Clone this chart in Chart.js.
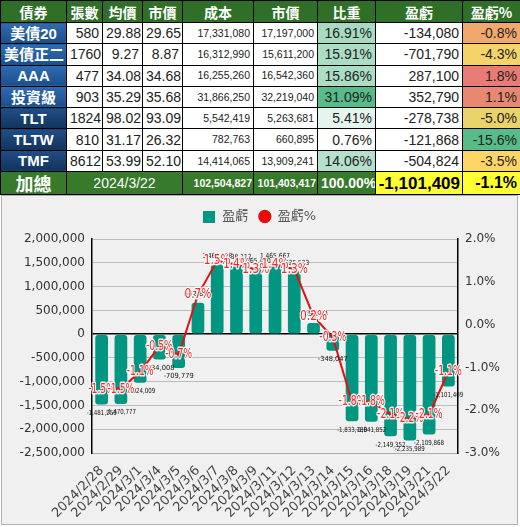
<!DOCTYPE html>
<html>
<head>
<meta charset="utf-8">
<script src="https://cdn.jsdelivr.net/npm/chart.js@4/dist/chart.umd.min.js"></script>
<style>
  body { margin: 0; width: 520px; height: 527px; background: #fff; position: relative; overflow: hidden; }
  table { position: absolute; left: 0; top: 0; width: 520px; border-collapse: collapse; table-layout: fixed;
    font-family: "Liberation Sans", Arial, "Noto Sans CJK TC", sans-serif; }
  td, th { border: 1px solid #000; padding: 0 3px; white-space: nowrap; overflow: hidden; line-height: 1; }
  tr { height: 21.3px; }
  tr.head { height: 22px; }
  tr.total { height: 23px; }
  th { background: #2f6f27; color: #fff; font-family: "Noto Sans CJK TC", sans-serif; font-size: 14px; font-weight: bold; }
  td { text-align: right; font-size: 14px; color: #222; background: #fff; }
  td.name { text-align: center; color: #fff; font-weight: bold; font-size: 15px; font-family: "Liberation Sans", "Noto Sans CJK TC", sans-serif; }
  td.small { font-size: 10.5px; }
  tr.total td { background: #377a2c; color: #fff; }
  #box { position: absolute; left: 1px; top: 195px; width: 515px; height: 328px; border: 1px solid #b0b0b0; background: #f0f0f0; }
</style>
</head>
<body>
<table id="tbl"></table>
<div id="box"><canvas id="c"></canvas></div>
<script>
// table data
const headers = ['債券', '張數', '均價', '市價', '成本', '市價', '比重', '盈虧', '盈虧%'];
const names = ['美債20', '美債正二', 'AAA', '投資級', 'TLT', 'TLTW', 'TMF'];
const lots = [580, 1760, 477, 903, 1824, 810, 8612];
const avgPrice = [29.88, 9.27, 34.08, 35.29, 98.02, 31.17, 53.99];
const lastPrice = [29.65, 8.87, 34.68, 35.68, 93.09, 26.32, 52.10];
const cost = [17331080, 16312990, 16255260, 31866250, 5542419, 782763, 14414065];
const mktValue = [17197000, 15611200, 16542360, 32219040, 5263681, 660895, 13909241];
const weight = [16.91, 15.91, 15.86, 31.09, 5.41, 0.76, 14.06];
const pnl = [-134080, -701790, 287100, 352790, -278738, -121868, -504824];
const pnlPct = [-0.8, -4.3, 1.8, 1.1, -5.0, -15.6, -3.5];
const totalLabel = '加總';
const totalDate = '2024/3/22';
const totalCost = 102504827;
const totalValue = 101403417;
const totalWeight = 100.00;
const totalPnl = -1101409;
const totalPct = -1.1;

// chart data
const dates = ['2024/2/28', '2024/2/29', '2024/3/1', '2024/3/4', '2024/3/5', '2024/3/6', '2024/3/7',
  '2024/3/8', '2024/3/9', '2024/3/11', '2024/3/12', '2024/3/13', '2024/3/14', '2024/3/15',
  '2024/3/16', '2024/3/18', '2024/3/19', '2024/3/21', '2024/3/22'];
const profit = [-1481250, -1470777, -1024009, -534008, -709779, 662880, 1469263, 1438112, 1365430,
  1465667, 1325523, 235273, -348047, -1833180, -1841852, -2149352, -2235989, -2109868, -1101409];
const profitPct = [-1.5, -1.5, -1.1, -0.5, -0.7, 0.7, 1.5, 1.4, 1.3, 1.4, 1.3, 0.2, -0.3, -1.8, -1.8,
  -2.1, -2.2, -2.1, -1.1];

const fmt = v => v.toLocaleString('en-US');

function mix(a, b, t) {
  const r = a.map((c, i) => Math.round(c + (b[i] - c) * t));
  return 'rgb(' + r.join(',') + ')';
}
const GREEN = [87, 187, 138], YELLOW = [255, 214, 102], RED = [230, 124, 115], WHITE = [255, 255, 255];

function weightColor(v) {
  const lo = Math.min(...weight), hi = Math.max(...weight);
  return mix(WHITE, GREEN, (v - lo) / (hi - lo));
}
function pctColor(v) {
  const lo = Math.min(...pnlPct), hi = Math.max(...pnlPct);
  const mid = [...pnlPct].sort((a, b) => a - b)[Math.floor(pnlPct.length / 2)];
  if (v <= mid) return mix(GREEN, YELLOW, (v - lo) / (mid - lo));
  return mix(YELLOW, RED, (v - mid) / (hi - mid));
}

function buildTable() {
  const widths = [66, 36, 40, 40, 71, 64, 58, 87, 58];
  let html = '<colgroup>' + widths.map(w => '<col style="width:' + w + 'px">').join('') + '</colgroup>';
  html += '<tr class="head">' + headers.map(h => '<th>' + h + '</th>').join('') + '</tr>';
  names.forEach((n, i) => {
    const bg = i < 4 ? 'linear-gradient(#2f6cb2,#1b4f8c)' : 'linear-gradient(#1f4f86,#13335c)';
    html += '<tr>' +
      '<td class="name" style="background:' + bg + '">' + n + '</td>' +
      '<td>' + lots[i] + '</td>' +
      '<td>' + avgPrice[i].toFixed(2) + '</td>' +
      '<td>' + lastPrice[i].toFixed(2) + '</td>' +
      '<td class="small">' + fmt(cost[i]) + '</td>' +
      '<td class="small">' + fmt(mktValue[i]) + '</td>' +
      '<td style="background:' + weightColor(weight[i]) + '">' + weight[i].toFixed(2) + '%</td>' +
      '<td>' + fmt(pnl[i]) + '</td>' +
      '<td style="background:' + pctColor(pnlPct[i]) + '">' + pnlPct[i].toFixed(1) + '%</td>' +
      '</tr>';
  });
  html += '<tr class="total">' +
    '<td class="name" style="font-size:18px;font-family:\'Noto Sans CJK TC\',sans-serif">' + totalLabel + '</td>' +
    '<td colspan="3" style="text-align:center">' + totalDate + '</td>' +
    '<td class="small" style="font-weight:bold;padding:0 1px">' + fmt(totalCost) + '</td>' +
    '<td class="small" style="font-weight:bold;padding:0 1px">' + fmt(totalValue) + '</td>' +
    '<td style="font-weight:bold">' + totalWeight.toFixed(2) + '%</td>' +
    '<td style="background:#ffff33;color:#000;font-weight:bold;font-size:17px;padding:0 2px">' + fmt(totalPnl) + '</td>' +
    '<td style="background:#ffff33;color:#000;font-weight:bold;font-size:16px">' + totalPct.toFixed(1) + '%</td>' +
    '</tr>';
  document.getElementById('tbl').innerHTML = html;
}
buildTable();

// square legend marker for the bar series
const square = document.createElement('canvas');
square.width = 12; square.height = 12;
const sq = square.getContext('2d');
sq.fillStyle = '#009682';
sq.fillRect(0, 0, 12, 12);

const labelPlugin = {
  id: 'pointLabels',
  afterDatasetsDraw(chart) {
    const ctx = chart.ctx;
    ctx.save();
    ctx.textAlign = 'center';
    ctx.font = '7px "DejaVu Sans"';
    ctx.fillStyle = '#111';
    chart.getDatasetMeta(0).data.forEach((bar, i) => {
      const v = profit[i];
      if (v >= 0) {
        ctx.textBaseline = 'bottom';
        ctx.fillText(fmt(v), bar.x, bar.y - 5, 30);
      } else {
        ctx.textBaseline = 'top';
        ctx.fillText(fmt(v), bar.x, bar.y + 5, 30);
      }
    });
    ctx.font = '14px "DejaVu Sans"';
    ctx.textBaseline = 'middle';
    ctx.lineWidth = 3;
    ctx.lineJoin = 'round';
    ctx.strokeStyle = 'rgba(255,255,255,0.9)';
    ctx.fillStyle = '#f02828';
    chart.getDatasetMeta(1).data.forEach((pt, i) => {
      const t = profitPct[i].toFixed(1) + '%';
      ctx.strokeText(t, pt.x, pt.y, 27);
      ctx.fillText(t, pt.x, pt.y, 27);
    });
    ctx.restore();
  }
};

Chart.defaults.font.family = '"DejaVu Sans", "Noto Sans CJK TC", sans-serif';
Chart.defaults.color = '#333';

new Chart(document.getElementById('c'), {
  data: {
    labels: dates,
    datasets: [
      {
        type: 'bar',
        label: '盈虧',
        data: profit,
        yAxisID: 'y',
        backgroundColor: '#009682',
        borderRadius: 3,
        borderSkipped: false,
        barPercentage: 0.66,
        categoryPercentage: 1,
        pointStyle: square,
        order: 1
      },
      {
        type: 'line',
        label: '盈虧%',
        data: profitPct,
        yAxisID: 'y1',
        borderColor: '#e41010',
        backgroundColor: '#ff0000',
        borderWidth: 2,
        pointRadius: 0,
        pointStyle: 'circle',
        tension: 0,
        order: 0
      }
    ]
  },
  options: {
    responsive: true,
    maintainAspectRatio: false,
    animation: false,
    layout: { padding: { top: 4, left: 0, right: 0, bottom: 0 } },
    plugins: {
      legend: {
        position: 'top',
        weight: 1000,
        labels: {
          usePointStyle: true,
          boxHeight: 8,
          font: { size: 13 },
          color: '#555',
          padding: 10,
          sort: (a, b) => a.datasetIndex - b.datasetIndex
        }
      },
      // empty spacer between legend and plot
      subtitle: {
        display: true,
        text: '',
        weight: 500,
        font: { size: 1 },
        padding: { top: 0, bottom: 5 }
      },
      tooltip: { enabled: false }
    },
    scales: {
      x: {
        grid: { display: false },
        border: { color: '#aaa' },
        ticks: { autoSkip: false, maxRotation: 45, minRotation: 45, font: { size: 13 }, color: '#444', padding: 2 },
        afterFit(scale) { scale.height = 71; }
      },
      y: {
        position: 'left',
        min: -2500000,
        max: 2000000,
        border: { color: '#000', width: 1.5 },
        grid: {
          drawTicks: false,
          color: ctx => ctx.tick && ctx.tick.value === 0 ? '#000' : '#bbb',
          lineWidth: ctx => ctx.tick && ctx.tick.value === 0 ? 1.5 : 1
        },
        ticks: { stepSize: 500000, padding: 7, font: { size: 12 }, color: '#333', callback: v => fmt(v) },
        afterFit(scale) { scale.width = 90; }
      },
      y1: {
        position: 'right',
        min: -3,
        max: 2,
        border: { color: '#000', width: 1.5 },
        grid: { display: false, drawTicks: false },
        ticks: { stepSize: 1, padding: 7, font: { size: 12 }, color: '#333', callback: v => v.toFixed(1) + '%' },
        afterFit(scale) { scale.width = 59; }
      }
    }
  },
  plugins: [labelPlugin]
});
</script>
</body>
</html>
